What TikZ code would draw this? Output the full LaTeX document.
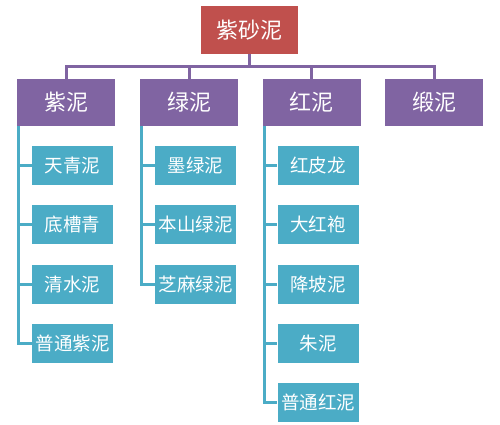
\documentclass[tikz,border=0pt]{standalone}
\usepackage{fontspec}
\newfontfamily\cjk{Noto Sans CJK SC}
\definecolor{rootred}{HTML}{C0504D}
\definecolor{lvpurple}{HTML}{8064A2}
\definecolor{leafteal}{HTML}{4BACC6}
\begin{document}
\begin{tikzpicture}[x=1pt,y=-1pt,
  box/.style={inner sep=0pt,text=white,font=\cjk},
  rootbox/.style={box,fill=rootred,minimum width=97pt,minimum height=48pt,font=\cjk\fontsize{22}{24}\selectfont},
  midbox/.style={box,fill=lvpurple,minimum width=98pt,minimum height=47pt,font=\cjk\fontsize{22}{24}\selectfont},
  leafbox/.style={box,fill=leafteal,minimum width=81pt,minimum height=39pt,font=\cjk\fontsize{18.5}{20}\selectfont},
  busline/.style={draw=lvpurple,line width=3pt},
  leafline/.style={draw=leafteal,line width=3pt}]
\path[use as bounding box,fill=white] (0,0) rectangle (500,425);
\node[rootbox] (root) at (249.5,30) {紫砂泥};
\node[midbox] (zini) at (66,102.5) {紫泥};
\node[midbox] (lvni) at (189,102.5) {绿泥};
\node[midbox] (hongni) at (311.5,102.5) {红泥};
\node[midbox] (duanni) at (434,102.5) {缎泥};
% purple children
\node[leafbox] (z1) at (72.5,165) {天青泥};
\node[leafbox] (z2) at (72.5,224.5) {底槽青};
\node[leafbox] (z3) at (72.5,284.5) {清水泥};
\node[leafbox] (z4) at (72.5,343.5) {普通紫泥};
% green children
\node[leafbox] (g1) at (195.5,165) {墨绿泥};
\node[leafbox] (g2) at (195.5,224.5) {本山绿泥};
\node[leafbox] (g3) at (195.5,284.5) {芝麻绿泥};
% red children
\node[leafbox] (h1) at (318,165) {红皮龙};
\node[leafbox] (h2) at (318,224.5) {大红袍};
\node[leafbox] (h3) at (318,284.5) {降坡泥};
\node[leafbox] (h4) at (318,343.5) {朱泥};
\node[leafbox] (h5) at (318,402) {普通红泥};
% bus
\draw[busline] (zini.north) -- ++(0,-12) -| (duanni.north);
\draw[busline] (root.south) -- ++(0,13);
\draw[busline] (lvni.north) -- ++(0,-12);
\draw[busline] (hongni.north) -- ++(0,-12);
% leaf lines
\coordinate (zs) at ([xshift=2pt]zini.south west);
\coordinate (gs) at ([xshift=2pt]lvni.south west);
\coordinate (hs) at ([xshift=2pt]hongni.south west);
\draw[leafline] (zs) |- (z4.west);
\foreach \n in {z1,z2,z3} \draw[leafline] (zs |- \n.west) -- (\n.west);
\draw[leafline] (gs) |- (g3.west);
\foreach \n in {g1,g2} \draw[leafline] (gs |- \n.west) -- (\n.west);
\draw[leafline] (hs) |- (h5.west);
\foreach \n in {h1,h2,h3,h4} \draw[leafline] (hs |- \n.west) -- (\n.west);
\end{tikzpicture}
\end{document}
